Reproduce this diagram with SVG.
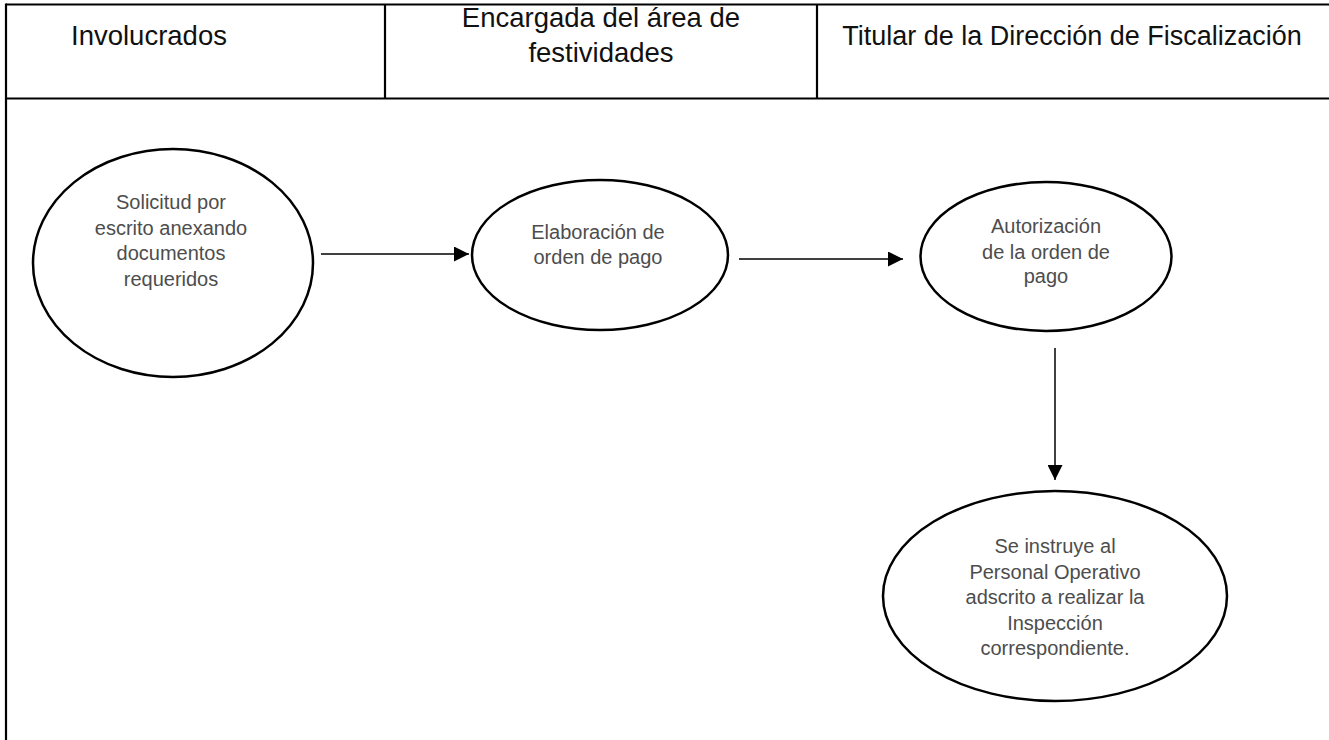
<svg xmlns="http://www.w3.org/2000/svg" width="1329" height="740" viewBox="0 0 1329 740">
<defs>
<style>
.grid{stroke:#000;stroke-width:2.2;fill:none}
.hdr{font-family:"Liberation Sans",Arial,sans-serif;font-size:27.5px;fill:#111;text-anchor:middle}
.node{fill:#fff;stroke:#000;stroke-width:2.5}
.lbl{font-family:"Liberation Sans",Arial,sans-serif;font-size:20px;fill:#4d4d4d;text-anchor:middle}
.conn{stroke:#000;stroke-width:1.5;fill:none}
</style>
<marker id="arrow" viewBox="0 0 10 10" refX="10" refY="5" markerWidth="16" markerHeight="15" markerUnits="userSpaceOnUse" orient="auto">
<path d="M0,0 L10,5 L0,10 Z" fill="#000"/>
</marker>
</defs>
<rect width="1329" height="740" fill="#fff"/>
<g id="table">
<line class="grid" x1="6" y1="4.5" x2="1329" y2="4.5"/>
<line class="grid" x1="6" y1="98.5" x2="1329" y2="98.5"/>
<line class="grid" x1="6" y1="3.5" x2="6" y2="740"/>
<line class="grid" x1="385" y1="4.5" x2="385" y2="98.5"/>
<line class="grid" x1="817" y1="4.5" x2="817" y2="98.5"/>
<text class="hdr" x="149" y="45">Involucrados</text>
<text class="hdr" x="601" y="27">Encargada del área de</text>
<text class="hdr" x="601" y="62">festividades</text>
<text class="hdr" x="1072" y="45" style="font-size:27px">Titular de la Dirección de Fiscalización</text>
</g>
<g id="connectors">
<line class="conn" x1="321" y1="254" x2="469" y2="254" marker-end="url(#arrow)"/>
<line class="conn" x1="739" y1="259" x2="903" y2="259" marker-end="url(#arrow)"/>
<line class="conn" x1="1055" y1="348" x2="1055" y2="480" marker-end="url(#arrow)"/>
</g>
<g id="node-solicitud">
<ellipse class="node" cx="173" cy="263" rx="140" ry="114"/>
<text class="lbl" x="171" y="209">Solicitud por</text>
<text class="lbl" x="171" y="234.5">escrito anexando</text>
<text class="lbl" x="171" y="260">documentos</text>
<text class="lbl" x="171" y="285.5">requeridos</text>
</g>
<g id="node-elaboracion">
<ellipse class="node" cx="600" cy="255" rx="128" ry="75"/>
<text class="lbl" x="598" y="238.5">Elaboración de</text>
<text class="lbl" x="598" y="263.5">orden de pago</text>
</g>
<g id="node-autorizacion">
<ellipse class="node" cx="1046" cy="256.5" rx="125.5" ry="74.5"/>
<text class="lbl" x="1046" y="233">Autorización</text>
<text class="lbl" x="1046" y="258.5">de la orden de</text>
<text class="lbl" x="1046" y="283">pago</text>
</g>
<g id="node-instruye">
<ellipse class="node" cx="1055" cy="596" rx="172" ry="105"/>
<text class="lbl" x="1055" y="553">Se instruye al</text>
<text class="lbl" x="1055" y="578.5">Personal Operativo</text>
<text class="lbl" x="1055" y="604">adscrito a realizar la</text>
<text class="lbl" x="1055" y="629.5">Inspección</text>
<text class="lbl" x="1055" y="655">correspondiente.</text>
</g>
</svg>
